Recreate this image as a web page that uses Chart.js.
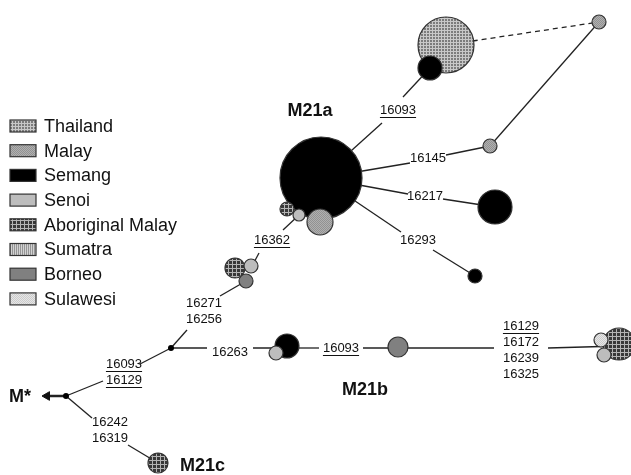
<!DOCTYPE html>
<html>
<head>
<meta charset="utf-8">
<script src="https://cdn.jsdelivr.net/npm/chart.js@4.4.1/dist/chart.umd.min.js"></script>
<style>
  body { margin: 0; background: #fff; }
  #wrap { width: 631px; height: 475px; position: relative; }
</style>
</head>
<body>
<div id="wrap"><canvas id="myNetwork"></canvas></div>
<script>
// Poblaciones (leyenda)
const grupos = ['Thailand', 'Malay', 'Semang', 'Senoi', 'Aboriginal Malay', 'Sumatra', 'Borneo', 'Sulawesi'];

// Nodos del network: posicion, radio y poblacion
const nodoX     = [446, 430, 599, 490, 321, 495, 475, 287, 299, 320, 235, 251, 246, 287, 276, 398, 619, 601, 604, 158];
const nodoY     = [45,  68,  22,  146, 178, 207, 276, 209, 215, 222, 268, 266, 281, 346, 353, 347, 344, 340, 355, 463];
const nodoR     = [28,  12,  7,   7,   41,  17,  7,   7,   6,   13,  10,  7,   7,   12,  7,   10,  16,  7,   7,   10];
const nodoGrupo = [0,   2,   1,   1,   2,   2,   2,   4,   3,   1,   4,   3,   6,   2,   3,   6,   4,   7,   3,   4];

// Vectores medianos (puntos negros)
const medianosX = [171, 66];
const medianosY = [348, 396];

// Ramas: x1, y1, x2, y2 (cortadas donde van las mutaciones)
const ramas = [
    [321, 178, 382, 123], [403, 97, 430, 68],
    [321, 178, 410, 163], [446, 155, 490, 146], [490, 146, 599, 22],
    [321, 178, 408, 194], [443, 199, 495, 207],
    [321, 178, 401, 232], [433, 250, 475, 276],
    [299, 215, 283, 230], [259, 253, 251, 268],
    [246, 281, 220, 296], [187, 330, 171, 348],
    [171, 348, 207, 348], [253, 348, 287, 348],
    [287, 348, 319, 348], [363, 348, 398, 348],
    [398, 348, 494, 348], [548, 348, 619, 346],
    [171, 348, 140, 364], [103, 381, 66, 396],
    [66, 396, 92, 418], [128, 445, 158, 463]
];
const ramaPunteada = [446, 45, 599, 22];
const flecha = [66, 396, 47, 396];

// Mutaciones: texto, x, y, subrayado
const mutaciones = [
    ['16093', 398, 110, true],
    ['16145', 428, 158, false],
    ['16217', 425, 196, false],
    ['16293', 418, 240, false],
    ['16362', 272, 240, true],
    ['16271', 204, 303, false],
    ['16256', 204, 319, false],
    ['16263', 230, 352, false],
    ['16093', 341, 348, true],
    ['16129', 521, 326, true],
    ['16172', 521, 342, false],
    ['16239', 521, 358, false],
    ['16325', 521, 374, false],
    ['16093', 124, 364, true],
    ['16129', 124, 380, true],
    ['16242', 110, 422, false],
    ['16319', 110, 438, false]
];

// Haplogrupos
const haplogrupos = [
    ['M21a', 310, 111, 'center'],
    ['M21b', 365, 390, 'center'],
    ['M21c', 180, 466, 'left'],
    ['M*', 9, 397, 'left']
];

// Texturas de cada poblacion
function crearTrama(base, linea, paso, vertical, horizontal) {
    const c = document.createElement('canvas');
    c.width = paso;
    c.height = paso;
    const g = c.getContext('2d');
    g.fillStyle = base;
    g.fillRect(0, 0, paso, paso);
    g.fillStyle = linea;
    if (vertical) g.fillRect(0, 0, 1, paso);
    if (horizontal) g.fillRect(0, 0, paso, 1);
    return g.createPattern(c, 'repeat');
}

function crearPuntos(base, punto) {
    const c = document.createElement('canvas');
    c.width = 2;
    c.height = 2;
    const g = c.getContext('2d');
    g.fillStyle = base;
    g.fillRect(0, 0, 2, 2);
    g.fillStyle = punto;
    g.fillRect(0, 0, 1, 1);
    g.fillRect(1, 1, 1, 1);
    return g.createPattern(c, 'repeat');
}

const rellenos = [
    crearTrama('#7c7c7c', '#c8c8c8', 3, true, true),   // Thailand
    crearPuntos('#b0b0b0', '#929292'),                 // Malay
    '#000000',                                         // Semang
    '#bdbdbd',                                         // Senoi
    crearTrama('#383838', '#b4b4b4', 4, true, true),   // Aboriginal Malay
    crearTrama('#d2d2d2', '#959595', 2, true, false),  // Sumatra
    '#808080',                                         // Borneo
    crearPuntos('#e6e6e6', '#cccccc')                  // Sulawesi
];

const FUENTE = '"Liberation Sans", Arial, sans-serif';

// Plugin para textos y leyenda
const textosPlugin = {
    id: 'textos',
    afterDatasetsDraw(chart) {
        const ctx = chart.ctx;
        const sx = chart.scales.x;
        const sy = chart.scales.y;
        ctx.save();

        // mutaciones
        ctx.font = '13px ' + FUENTE;
        ctx.fillStyle = '#111';
        ctx.textAlign = 'center';
        ctx.textBaseline = 'middle';
        mutaciones.forEach(m => {
            const px = sx.getPixelForValue(m[1]);
            const py = sy.getPixelForValue(m[2]);
            ctx.fillText(m[0], px, py);
            if (m[3]) {
                const w = ctx.measureText(m[0]).width;
                ctx.fillRect(px - w / 2, py + 7, w, 1);
            }
        });

        // haplogrupos
        ctx.font = 'bold 18px ' + FUENTE;
        haplogrupos.forEach(h => {
            ctx.textAlign = h[3];
            ctx.fillText(h[0], sx.getPixelForValue(h[1]), sy.getPixelForValue(h[2]));
        });

        // leyenda
        ctx.font = '18px ' + FUENTE;
        ctx.textAlign = 'left';
        grupos.forEach((g, i) => {
            const y = 120 + i * 24.7;
            ctx.fillStyle = rellenos[i];
            ctx.fillRect(10, y, 26, 12);
            ctx.strokeStyle = '#333';
            ctx.lineWidth = 1.2;
            ctx.strokeRect(10, y, 26, 12);
            ctx.fillStyle = '#111';
            ctx.fillText(g, 44, y + 7);
        });

        ctx.restore();
    }
};

function segmento(r, extra) {
    return Object.assign({
        type: 'line',
        data: [{ x: r[0], y: r[1] }, { x: r[2], y: r[3] }],
        borderColor: '#222',
        borderWidth: 1.3,
        pointRadius: 0,
        fill: false,
        clip: false,
        order: 3
    }, extra || {});
}

function inicioNetwork() {
    const datasets = [];

    ramas.forEach(r => datasets.push(segmento(r)));
    datasets.push(segmento(ramaPunteada, { borderDash: [5, 4] }));
    datasets.push(segmento(flecha, { borderWidth: 2.5 }));

    // punta de flecha
    datasets.push({
        type: 'scatter',
        data: [{ x: flecha[2], y: flecha[3] }],
        pointStyle: 'triangle',
        rotation: -90,
        pointRadius: 5,
        backgroundColor: '#111',
        borderColor: '#111',
        borderWidth: 1,
        clip: false,
        order: 2
    });

    // haplotipos
    datasets.push({
        type: 'bubble',
        data: nodoX.map((x, i) => ({ x: x, y: nodoY[i], r: nodoR[i] })),
        backgroundColor: nodoGrupo.map(g => rellenos[g]),
        borderColor: '#333',
        borderWidth: 1.2,
        clip: false,
        order: 1
    });

    // vectores medianos
    datasets.push({
        type: 'scatter',
        data: medianosX.map((x, i) => ({ x: x, y: medianosY[i] })),
        pointRadius: 3,
        backgroundColor: '#000',
        borderWidth: 0,
        clip: false,
        order: 0
    });

    const ctx = document.getElementById('myNetwork').getContext('2d');
    new Chart(ctx, {
        type: 'scatter',
        data: { datasets: datasets },
        options: {
            responsive: true,
            maintainAspectRatio: false,
            animation: false,
            layout: { padding: 0, autoPadding: false },
            scales: {
                x: { type: 'linear', min: 0, max: 631, display: false },
                y: { type: 'linear', min: 0, max: 475, reverse: true, display: false }
            },
            plugins: {
                legend: { display: false },
                tooltip: { enabled: false }
            },
            events: []
        },
        plugins: [textosPlugin]
    });
}

inicioNetwork();
</script>
</body>
</html>
